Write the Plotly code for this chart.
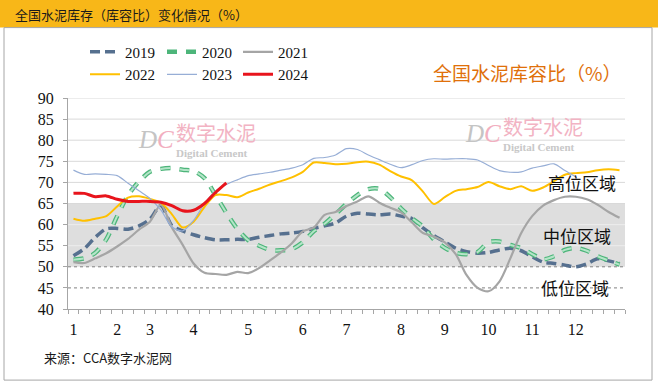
import plotly.graph_objects as go

# ---------------- data ----------------
N_WEEKS = 51
week_index = list(range(N_WEEKS))
month_tick_pos = [0, 4, 7, 11, 16, 21, 25, 30, 34, 38, 42, 46]
month_tick_text = ["1", "2", "3", "4", "5", "6", "7", "8", "9", "10", "11", "12"]
y_ticks = [40, 45, 50, 55, 60, 65, 70, 75, 80, 85, 90]

s2019 = [52.6, 54.3, 57.0, 59.0, 59.1, 58.9, 59.7, 61.3, 64.5, 59.8, 58.5, 57.6, 56.9, 56.4, 56.4, 56.5, 56.5,
         57.0, 57.4, 57.8, 58.0, 58.4, 59.1, 59.7, 60.4, 62.0, 62.7, 62.5, 62.3, 62.5, 62.0, 61.4, 59.2, 57.4,
         55.9, 54.4, 53.6, 53.2, 53.4, 54.0, 54.4, 53.8, 52.4, 51.1, 50.8, 50.4, 50.0, 50.7, 51.9, 51.4, 50.8]
s2020 = [51.7, 52.0, 53.3, 56.5, 62.0, 67.0, 70.2, 72.5, 73.2, 73.4, 73.0, 72.7, 71.0, 67.0, 62.8, 59.0, 56.3,
         55.0, 54.0, 53.9, 54.2, 55.8, 58.4, 60.2, 62.5, 64.9, 67.0, 68.4, 68.5, 66.5, 63.8, 61.5, 59.5, 56.5,
         54.5, 53.3, 53.0, 53.5, 55.8, 56.0, 55.2, 54.4, 53.0, 51.8, 52.5, 54.0, 54.5, 53.8, 52.5, 51.5, 50.5]
s2021 = [51.1, 50.9, 52.0, 53.2, 54.8, 56.6, 58.8, 60.7, 64.7, 59.4, 55.2, 50.8, 48.6, 48.3, 48.1, 48.8, 48.5,
         49.7, 51.5, 53.4, 55.6, 58.4, 59.3, 62.3, 63.0, 64.4, 65.5, 66.7, 65.2, 64.0, 62.9, 60.5, 58.0, 57.2,
         55.8, 53.0, 48.0, 45.0, 44.2, 46.5, 52.0, 58.0, 62.0, 64.5, 65.8, 66.6, 66.6, 66.0, 64.7, 63.0, 61.6]
s2022 = [61.4, 60.9, 61.4, 62.0, 64.3, 66.4, 66.7, 66.1, 65.2, 62.5, 59.3, 60.7, 64.2, 67.0, 67.0, 66.5, 67.6,
         68.5, 69.5, 70.3, 71.2, 72.5, 74.7, 74.6, 74.3, 74.4, 74.8, 74.9, 74.2, 72.7, 71.4, 70.5, 67.8, 64.9,
         66.5, 68.0, 68.4, 68.9, 70.1, 69.1, 68.4, 69.1, 68.0, 68.8, 70.3, 71.8, 72.2, 72.4, 72.9, 73.1, 72.9]
s2023 = [72.9, 71.9, 72.0, 71.9, 71.6, 69.8, 68.0, 66.2, 63.5, 59.5, 58.5, 61.0, 65.0, 68.0, 69.5, 70.6, 71.6,
         72.0, 72.4, 72.9, 73.4, 74.2, 75.7, 75.9, 76.5, 78.0, 77.8, 76.5, 75.4, 74.3, 73.5, 74.2, 75.2, 75.6,
         75.5, 75.6, 75.6, 75.3, 74.0, 72.8, 72.4, 72.5, 73.4, 73.9, 74.4, 72.8, 71.3]
s2024 = [67.4, 67.4, 66.6, 66.8, 66.0, 65.5, 65.5, 65.5, 65.3, 64.5, 63.3, 63.4, 65.0, 67.6, 69.9]

# ---------------- geometry helpers ----------------
W, H = 658, 383
L, R, T, B = 68, 625, 98.3, 309
PW, PH = R - L, B - T


def fx(px):
    return (px - L) / PW


def fy(py):
    return (B - py) / PH


fig = go.Figure()

SM = 0.8
# legend columns: legend (2019, 2022), legend2 (2020, 2023), legend3 (2021, 2024)
fig.add_trace(go.Scatter(x=week_index[:len(s2019)], y=s2019, name="2019", mode="lines",
                         line=dict(color="#56708F", width=3.5, dash="10px,5px", shape="spline", smoothing=SM),
                         legend="legend"))
fig.add_trace(go.Scatter(x=week_index[:len(s2020)], y=s2020, name="2020", mode="lines",
                         line=dict(color="#4DB57A", width=4.5, dash="10px,9px", shape="spline", smoothing=SM),
                         legend="legend2"))
fig.add_trace(go.Scatter(x=week_index[:len(s2020)], y=s2020, name="2020", mode="lines", showlegend=False,
                         line=dict(color="#B4E5C8", width=2, dash="10px,9px", shape="spline", smoothing=SM)))
fig.add_trace(go.Scatter(x=week_index[:len(s2021)], y=s2021, name="2021", mode="lines",
                         line=dict(color="#A5A5A5", width=2.2, shape="spline", smoothing=SM),
                         legend="legend3"))
fig.add_trace(go.Scatter(x=week_index[:len(s2022)], y=s2022, name="2022", mode="lines",
                         line=dict(color="#FFC000", width=2, shape="spline", smoothing=SM),
                         legend="legend"))
fig.add_trace(go.Scatter(x=week_index[:len(s2023)], y=s2023, name="2023", mode="lines",
                         line=dict(color="#97AED6", width=1.2, shape="spline", smoothing=SM),
                         legend="legend2"))
fig.add_trace(go.Scatter(x=week_index[:len(s2024)], y=s2024, name="2024", mode="lines",
                         line=dict(color="#E8141C", width=3, shape="spline", smoothing=SM),
                         legend="legend3"))

shapes = []
# grey middle band
shapes.append(dict(type="rect", xref="x domain", yref="y", x0=0, x1=1, y0=50, y1=65,
                   fillcolor="#DEDEDE", line=dict(width=0), layer="below"))
for v in y_ticks[1:]:
    if v in (45, 50):
        shapes.append(dict(type="line", xref="x domain", yref="y", x0=0, x1=1, y0=v, y1=v,
                           line=dict(color="#808080", width=1, dash="dot"), layer="below"))
    elif v in (55, 60):
        shapes.append(dict(type="line", xref="x domain", yref="y", x0=0, x1=1, y0=v, y1=v,
                           line=dict(color="#EDEDED", width=1), layer="below"))
    else:
        shapes.append(dict(type="line", xref="x domain", yref="y", x0=0, x1=1, y0=v, y1=v,
                           line=dict(color="#D9D9D9", width=1), layer="below"))
# title bar and outer frame
shapes.append(dict(type="rect", xref="paper", yref="paper", x0=fx(0), x1=fx(W), y0=fy(28), y1=fy(0),
                   fillcolor="#F8B718", line=dict(width=0), layer="below"))
shapes.append(dict(type="rect", xref="paper", yref="paper", x0=fx(4), x1=fx(652), y0=fy(380), y1=fy(28),
                   fillcolor="rgba(0,0,0,0)", line=dict(color="#A6A6A6", width=1), layer="below"))

CJK = "Noto Sans CJK SC"
SERIF = "Liberation Serif"
ann = []


def add_text(text, px, py, size, color, family=CJK, xanchor="left", yanchor="middle"):
    ann.append(dict(text=text, x=fx(px), y=fy(py), xref="paper", yref="paper", showarrow=False,
                    xanchor=xanchor, yanchor=yanchor, font=dict(family=family, size=size, color=color)))


add_text("全国水泥库存（库容比）变化情况（%）", 13, 14.5, 13, "#1A1A1A")
add_text("全国水泥库容比（%）", 431, 73, 19, "#E0700A")
# watermarks
for (dx, cy1, cy2, dcy) in [(136, 133, 152, 140), (463, 127, 146, 134)]:
    add_text("<i><span style='color:#C4C4C4'>D</span><span style='color:#F2AFC0'>C</span></i>",
             dx, dcy, 25, "#C4C4C4", family=SERIF)
    add_text("数字水泥", dx + 38, cy1, 20, "#F2B3C3")
    add_text("<b>Digital Cement</b>", dx + 38, cy2 + 1, 11, "#C8C8C8", family=SERIF)
add_text("高位区域", 546, 183, 17, "#111111")
add_text("中位区域", 541, 236, 17, "#111111")
add_text("低位区域", 539, 288, 17, "#111111")
add_text("来源：CCA数字水泥网", 42, 357, 13, "#1A1A1A")


def legend_col(px):
    return dict(orientation="v", x=fx(px), y=fy(36), xanchor="left", yanchor="top",
                bgcolor="rgba(0,0,0,0)", tracegroupgap=0, itemwidth=30,
                font=dict(family=SERIF, size=15, color="#111111"))


fig.update_layout(
    width=W, height=H,
    margin=dict(l=L, r=W - R, t=T, b=H - B, pad=0),
    paper_bgcolor="white", plot_bgcolor="white",
    shapes=shapes, annotations=ann,
    legend=legend_col(85),
    legend2=legend_col(162),
    legend3=legend_col(238),
    xaxis=dict(range=[-0.5, N_WEEKS - 0.5], tickmode="array", tickvals=month_tick_pos, ticktext=month_tick_text,
               ticks="", showgrid=False, zeroline=False, showline=True, linecolor="#A6A6A6", linewidth=1,
               tickfont=dict(family=SERIF, size=16, color="#111111"), ticklabelstandoff=6,
               minor=dict(ticks="outside", tick0=-0.5, dtick=1, ticklen=4, tickcolor="#A6A6A6", showgrid=False)),
    yaxis=dict(range=[40, 90], tickmode="array", tickvals=y_ticks, showgrid=False, zeroline=False,
               showline=True, linecolor="#A6A6A6", linewidth=1, ticks="outside", ticklen=4, tickcolor="#A6A6A6",
               tickfont=dict(family=SERIF, size=16, color="#111111"), ticklabelstandoff=6),
)

fig.write_html("out.html", config={"displayModeBar": False},
               post_script="document.body.style.margin='0';document.body.style.padding='0';")
